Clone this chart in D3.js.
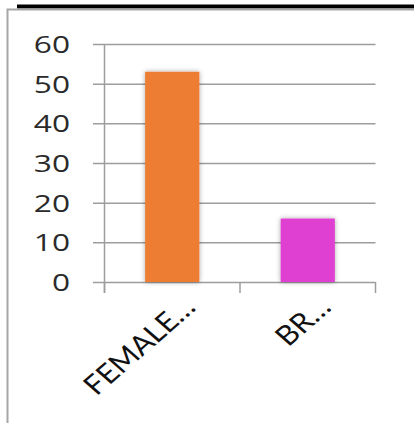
<!DOCTYPE html>
<html>
<head>
<meta charset="utf-8">
<script src="https://cdn.jsdelivr.net/npm/d3@7"></script>
<style>
  body { margin: 0; background: #fff; }
</style>
</head>
<body>
<div id="chart"></div>
<script>
const categories = ["FEMALE…", "BR…"]
const values = [53, 16]
const barColors = ["#ED7D31", "#E040D2"]
const yTicks = [0, 10, 20, 30, 40, 50, 60]

const width = 414,
      height = 423,
      stretch = 1.28   // picture is widened sideways, text too

const plot = { left: 104.5, right: 375.5, top: 44, bottom: 282 }

const svg = d3.select("#chart")
    .append("svg")
    .attr("width", width)
    .attr("height", height)

// soft shadow behind bars
const filter = svg.append("defs").append("filter")
    .attr("id", "shadow")
    .attr("x", "-30%").attr("y", "-10%")
    .attr("width", "160%").attr("height", "120%")
filter.append("feDropShadow")
    .attr("dx", 0).attr("dy", 0)
    .attr("stdDeviation", 2.5)
    .attr("flood-color", "#000")
    .attr("flood-opacity", 0.35)

// frame + black strip on top
svg.append("rect")
    .attr("x", 17).attr("y", 4.5)
    .attr("width", width - 17).attr("height", 4)
    .attr("fill", "#000")
svg.append("path")
    .attr("d", `M7.5,${height} V9.5 H${width}`)
    .attr("fill", "none")
    .attr("stroke", "#a6a6a6")
    .attr("stroke-width", 2)

const x = d3.scaleBand()
    .domain(categories)
    .range([plot.left, plot.right])
    .paddingInner(0.6)
    .paddingOuter(0.3)

const y = d3.scaleLinear()
    .domain([0, 60])
    .range([plot.bottom, plot.top])

// gridlines + y labels
const yAxis = svg.append("g")
    .attr("transform", `translate(93, 0)`)
    .call(d3.axisLeft(y)
        .tickValues(yTicks)
        .tickSizeInner(-(plot.right - 93))
        .tickSizeOuter(0)
        .tickPadding(23))
yAxis.select(".domain").remove()
yAxis.selectAll(".tick line")
    .attr("stroke", "#9d9d9d")
    .attr("stroke-width", 1.5)
yAxis.selectAll(".tick text")
    .attr("x", 0)
    .attr("dy", "0.36em")
    .attr("transform", `translate(-23, 0) scale(1.32, 1)`)
    .attr("fill", "#2a2a2a")
    .style("font-family", "Open Sans")
    .style("font-size", "24px")

// y axis line
svg.append("line")
    .attr("x1", plot.left).attr("x2", plot.left)
    .attr("y1", y(60)).attr("y2", plot.bottom + 11)
    .attr("stroke", "#9d9d9d")
    .attr("stroke-width", 1.5)

// x tick marks at category boundaries
const bounds = [plot.left, ...categories.map(c => x(c) - x.step() * x.paddingInner() / 2 + x.step())]
svg.selectAll(".xtick")
    .data(bounds)
    .enter()
    .append("line")
    .attr("class", "xtick")
    .attr("x1", d => d).attr("x2", d => d)
    .attr("y1", plot.bottom).attr("y2", plot.bottom + 11)
    .attr("stroke", "#9d9d9d")
    .attr("stroke-width", 1.5)

// bars
svg.selectAll(".bar")
    .data(values)
    .enter()
    .append("rect")
    .attr("class", "bar")
    .attr("x", (d, i) => x(categories[i]))
    .attr("y", d => y(d))
    .attr("width", x.bandwidth())
    .attr("height", d => y(0) - y(d))
    .attr("fill", (d, i) => barColors[i])
    .attr("filter", "url(#shadow)")

// category labels, slanted
svg.selectAll(".xlabel")
    .data(categories)
    .enter()
    .append("text")
    .attr("class", "xlabel")
    .attr("transform", d => `translate(${x(d) + x.bandwidth() / 2 + 25}, 309) scale(1.15, 1) rotate(-45)`)
    .attr("text-anchor", "end")
    .attr("fill", "#111")
    .style("font-family", "Lato")
    .style("font-size", "27px")
    .text(d => d)
</script>
</body>
</html>
